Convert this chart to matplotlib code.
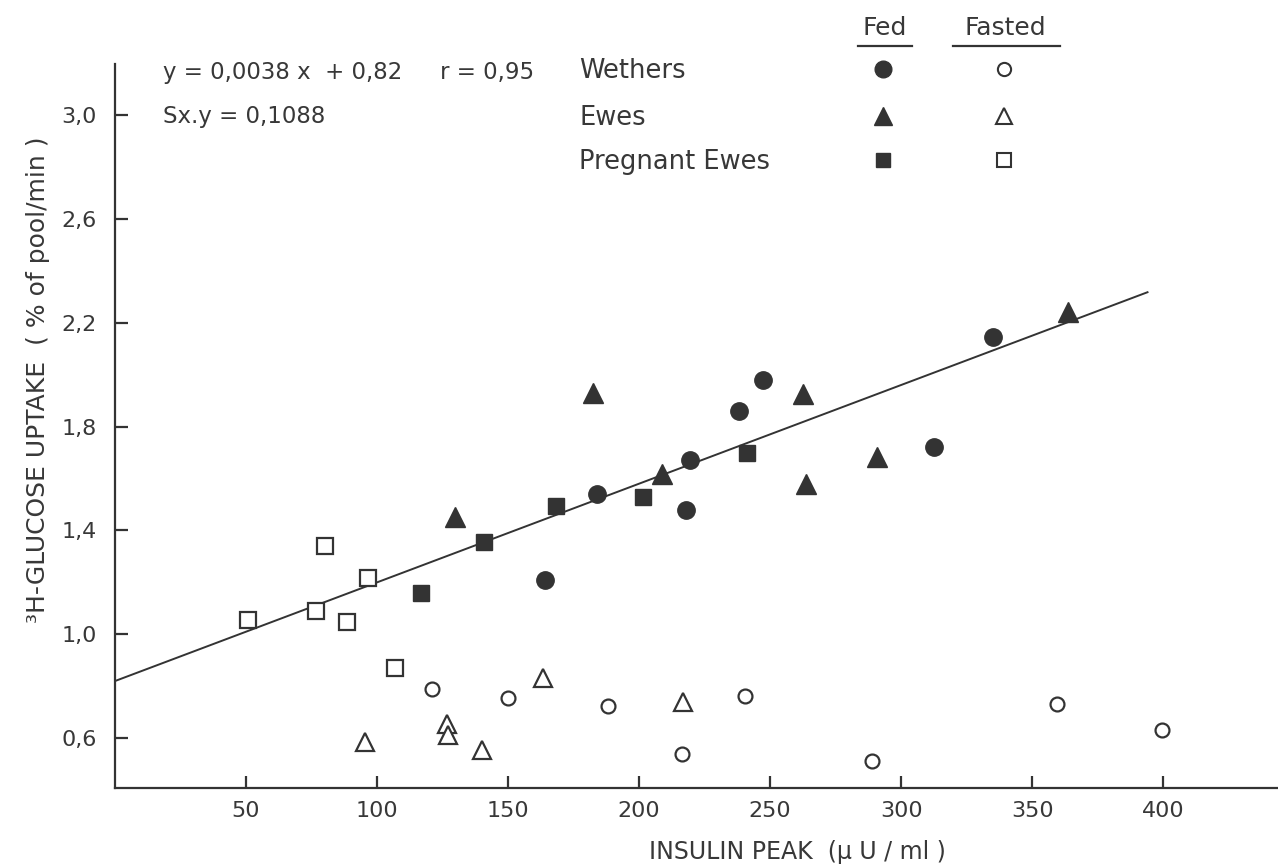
"""Insulin peak vs 3H-glucose uptake in sheep (fed / fasted)."""
import matplotlib
matplotlib.use("Agg")
import matplotlib.pyplot as plt
from matplotlib.lines import Line2D
import numpy as np

# ---------------------------------------------------------------------------
# Data
# ---------------------------------------------------------------------------
wethers_fed_x = [164, 184, 219.6, 218, 238, 247.3, 312.5, 335]
wethers_fed_y = [1.21, 1.54, 1.67, 1.48, 1.86, 1.98, 1.72, 2.145]

wethers_fast_x = [121, 150, 188, 216.3, 240.4, 288.7, 359.3, 399.7]
wethers_fast_y = [0.79, 0.755, 0.725, 0.54, 0.763, 0.514, 0.73, 0.63]

ewes_fed_x = [129.7, 182.5, 208.8, 262.6, 263.5, 290.6, 363.7]
ewes_fed_y = [1.453, 1.928, 1.618, 1.926, 1.579, 1.684, 2.24]

ewes_fast_x = [95.4, 126.6, 126.9, 140, 163.2, 216.8]
ewes_fast_y = [0.587, 0.655, 0.613, 0.555, 0.831, 0.741]

preg_fed_x = [116.6, 140.8, 168.4, 201.6, 241]
preg_fed_y = [1.158, 1.357, 1.494, 1.53, 1.70]

preg_fast_x = [50.6, 80.1, 76.7, 96.4, 88.5, 106.9]
preg_fast_y = [1.055, 1.34, 1.09, 1.218, 1.049, 0.869]

# regression line as printed on the chart
SLOPE, INTERCEPT = 0.0038, 0.82
line_x = np.array([0, 394])

x_ticks = [50, 100, 150, 200, 250, 300, 350, 400]
y_ticks = [0.6, 1.0, 1.4, 1.8, 2.2, 2.6, 3.0]
y_ticklabels = ["0,6", "1,0", "1,4", "1,8", "2,2", "2,6", "3,0"]

groups = ["Wethers", "Ewes", "Pregnant Ewes"]

# ---------------------------------------------------------------------------
# Plot
# ---------------------------------------------------------------------------
W, H = 1278, 866
INK = "#333333"
TXT = "#383838"

plt.rcParams["font.family"] = ["DejaVu Sans"]


def fx(px):
    return px / W


def fy(py):
    return 1 - py / H


fig = plt.figure(figsize=(W / 100, H / 100), dpi=100)
fig.patch.set_facecolor("white")
ax = fig.add_axes([fx(115), fy(788.3), 1 - fx(115), fy(64) - fy(788.3)])

ax.set_xlim(0, 443.8)
ax.set_ylim(0.407, 3.196)

for s in ["top", "right"]:
    ax.spines[s].set_visible(False)
for s in ["left", "bottom"]:
    ax.spines[s].set_linewidth(1.6)
    ax.spines[s].set_color(INK)

ax.set_xticks(x_ticks)
ax.set_xticklabels([str(v) for v in x_ticks])
ax.set_yticks(y_ticks)
ax.set_yticklabels(y_ticklabels)
ax.tick_params(axis="both", direction="in", length=9, width=1.6, color=INK,
               labelsize=16, labelcolor=TXT)
ax.tick_params(axis="x", pad=9)
ax.tick_params(axis="y", pad=13)

ax.plot(line_x, SLOPE * line_x + INTERCEPT, color=INK, lw=1.4, zorder=2)

filled = dict(color=INK, linestyle="none", zorder=3)
hollow = dict(color=INK, markerfacecolor="white", linestyle="none",
              markeredgewidth=1.6, zorder=3)

ax.plot(wethers_fed_x, wethers_fed_y, marker="o", markersize=12.5, **filled)
ax.plot(wethers_fast_x, wethers_fast_y, marker="o", markersize=10, **hollow)
ax.plot(ewes_fed_x, ewes_fed_y, marker="^", markersize=14.5, **filled)
ax.plot(ewes_fast_x, ewes_fast_y, marker="^", markersize=13, **hollow)
ax.plot(preg_fed_x, preg_fed_y, marker="s", markersize=12, **filled)
ax.plot(preg_fast_x, preg_fast_y, marker="s", markersize=11, **hollow)

fig.text(fx(797), fy(852), "INSULIN PEAK  (\u00b5 U / ml )", ha="center",
         va="center", fontsize=17, color=TXT)
fig.text(fx(38), fy(380), "\u00b3H-GLUCOSE UPTAKE  ( % of pool/min )",
         rotation=90, ha="center", va="center", fontsize=18, color=TXT)

# equation
fig.text(fx(163), fy(72), "y = 0,0038 x  + 0,82", ha="left", va="center",
         fontsize=16.5, color=TXT)
fig.text(fx(440), fy(72), "r = 0,95", ha="left", va="center",
         fontsize=16.5, color=TXT)
fig.text(fx(163), fy(116), "Sx.y = 0,1088", ha="left", va="center",
         fontsize=16.5, color=TXT)

# key
row_y = [69, 116, 160]
for name, py in zip(groups, row_y):
    fig.text(fx(579), fy(py + 2), name, ha="left", va="center",
             fontsize=18.5, color=TXT)

fig.text(fx(885), fy(28), "Fed", ha="center", va="center", fontsize=18, color=TXT)
fig.text(fx(1005), fy(28), "Fasted", ha="center", va="center", fontsize=18, color=TXT)
fig.add_artist(Line2D([fx(858), fx(912)], [fy(46), fy(46)], color=INK, lw=1.6))
fig.add_artist(Line2D([fx(953), fx(1060)], [fy(46), fy(46)], color=INK, lw=1.6))

key_marks = [("o", 12, 9.5), ("^", 13, 11.5), ("s", 10.5, 10)]
for (m, s_fed, s_fast), py in zip(key_marks, row_y):
    fig.add_artist(Line2D([fx(883)], [fy(py)], marker=m, markersize=s_fed,
                          color=INK, linestyle="none"))
    fig.add_artist(Line2D([fx(1004)], [fy(py)], marker=m, markersize=s_fast,
                          color=INK, markerfacecolor="white",
                          markeredgewidth=1.5, linestyle="none"))

fig.savefig("out.png", dpi=100, facecolor="white")
